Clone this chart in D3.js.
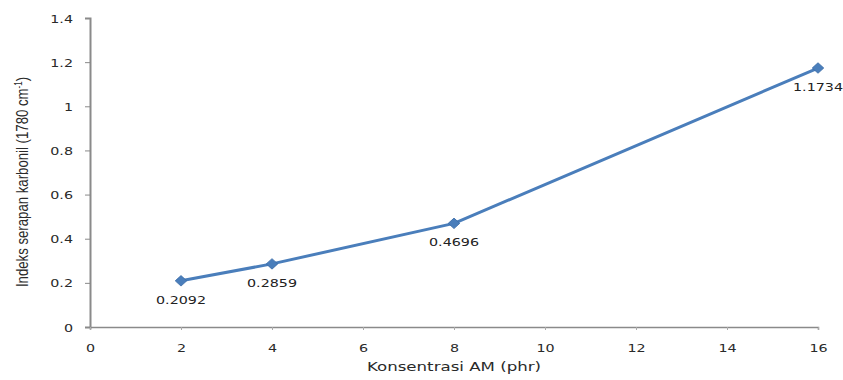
<!DOCTYPE html>
<html><head><meta charset="utf-8">
<script src="https://cdn.jsdelivr.net/npm/d3@7"></script>
<style>body{margin:0;background:#fff}svg{display:block}</style>
</head><body>
<script>
const xValues = [2, 4, 8, 16];
const yValues = [0.2092, 0.2859, 0.4696, 1.1734];
const pointLabels = ["0.2092", "0.2859", "0.4696", "1.1734"];
const xTicks = [0, 2, 4, 6, 8, 10, 12, 14, 16];
const yTicks = [0, 0.2, 0.4, 0.6, 0.8, 1, 1.2, 1.4];
const xTitle = "Konsentrasi AM (phr)";
const yTitle = "Indeks serapan karbonil (1780 cm";
const yTitleSup = "-1";

const W = 843, H = 380;
const SX = 1.3; // horizontal stretch of the reference image
const svg = d3.select("body").append("svg").attr("width", W).attr("height", H);
const x = d3.scaleLinear().domain([0, 16]).range([90, 818]);
const y = d3.scaleLinear().domain([0, 1.4]).range([327, 18]);
const font = "'DejaVu Sans', Verdana, sans-serif";
const axisColor = "#8a8a8a";

// y axis
const ya = svg.append("g").attr("transform", `translate(${x(0)},0)`)
  .call(d3.axisLeft(y).tickValues(yTicks).tickSize(5).tickFormat(d => String(d)));
ya.select(".domain").attr("stroke", axisColor).attr("stroke-width", 2);
ya.selectAll(".tick line").attr("stroke", axisColor);
ya.selectAll(".tick text").remove();
ya.selectAll(".tick").append("g").attr("transform", "translate(-17,4) scale(" + SX + ",1)")
  .append("text").attr("text-anchor", "end").attr("font-family", font).attr("font-size", 11)
  .attr("fill", "#2a2a2a").text(d => String(d));

// x axis
const xa = svg.append("g").attr("transform", `translate(0,${y(0)})`)
  .call(d3.axisBottom(x).tickValues(xTicks).tickSize(3).tickFormat(d => String(d)));
xa.select(".domain").attr("stroke", axisColor).attr("stroke-width", 1.5);
xa.selectAll(".tick line").attr("stroke", "#aaa");
xa.selectAll(".tick text").remove();
xa.selectAll(".tick").append("g").attr("transform", "translate(0,25) scale(" + SX + ",1)")
  .append("text").attr("text-anchor", "middle").attr("font-family", font).attr("font-size", 11)
  .attr("fill", "#2a2a2a").text(d => String(d));

// line
const line = d3.line().x((d, i) => x(xValues[i])).y(d => y(d));
svg.append("path").datum(yValues).attr("d", line).attr("fill", "none")
  .attr("stroke", "#4a7ebb").attr("stroke-width", 3).attr("stroke-linejoin", "round");

// markers
svg.selectAll(".mk").data(yValues).enter().append("path")
  .attr("d", d3.symbol().type(d3.symbolDiamond2 || d3.symbolDiamond).size(70))
  .attr("transform", (d, i) => `translate(${x(xValues[i])},${y(d)}) scale(1.1,1)`)
  .attr("fill", "#4a7ebb").attr("stroke", "#3c6ca8").attr("stroke-width", 0.8);

// point labels
svg.selectAll(".pl").data(yValues).enter().append("g")
  .attr("transform", (d, i) => `translate(${x(xValues[i])},${y(d) + 23}) scale(${SX},1)`)
  .append("text").attr("text-anchor", "middle").attr("font-family", font).attr("font-size", 11)
  .attr("fill", "#222").text((d, i) => pointLabels[i]);

// x title
svg.append("g").attr("transform", `translate(${(x(0) + x(16)) / 2},371) scale(${SX},1)`)
  .append("text").attr("text-anchor", "middle").attr("font-family", font).attr("font-size", 12.8)
  .attr("fill", "#2a2a2a").text(xTitle);

// y title
const yt = svg.append("g").attr("transform", `translate(28,182) rotate(-90) scale(1,${SX})`)
  .append("text").attr("text-anchor", "middle").attr("font-family", "'Liberation Sans Narrow', 'Liberation Sans', sans-serif")
  .attr("font-size", 13.2).attr("fill", "#2a2a2a");
yt.append("tspan").text(yTitle);
yt.append("tspan").attr("font-size", 8).attr("dy", -5).text(yTitleSup);
yt.append("tspan").attr("dy", 5).text(")");
</script>
</body></html>
